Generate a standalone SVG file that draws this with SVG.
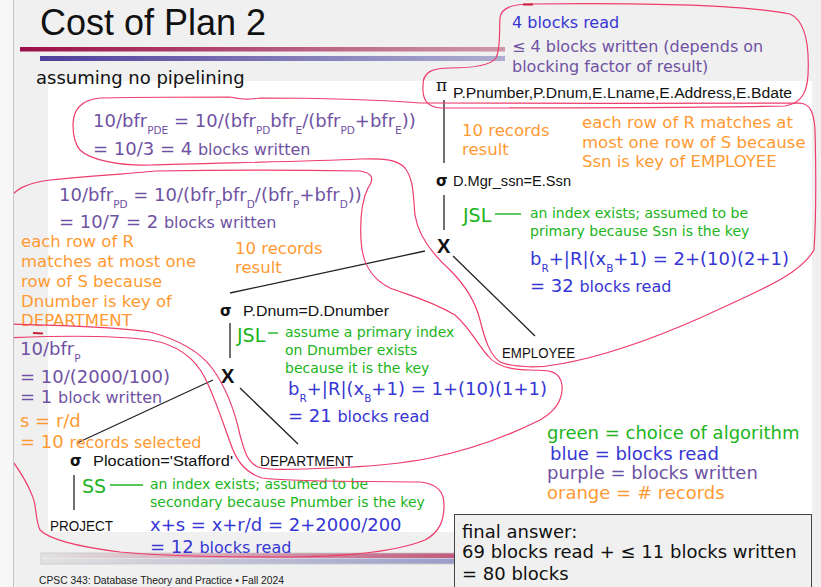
<svg xmlns="http://www.w3.org/2000/svg" width="821" height="587" viewBox="0 0 821 587">
  <defs>
    <style>
      .t { font-family: "DejaVu Sans", "Noto Sans", sans-serif; }
      .f18 { font-size: 18px; }
      .f16 { font-size: 16px; }
      .f165 { font-size: 16.5px; }
      .f14 { font-size: 14px; }
      .sub { font-size: 10.5px; }
      .blue { fill: #3636d4; }
      .purple { fill: #6f52a3; }
      .orange { fill: #ff9a33; }
      .green { fill: #20b420; }
      .node { font-family: "Liberation Sans", Arial, sans-serif; font-size: 14px; fill: #111; }
      .sym { font-family: "DejaVu Sans", sans-serif; font-weight: bold; font-size: 15px; fill: #111; }
      .cross { font-family: "Liberation Sans", Arial, sans-serif; font-weight: bold; font-size: 20px; fill: #111; }
      .edge { stroke: #222; stroke-width: 1.3; fill: none; }
      .loop { stroke: #ee3c6c; stroke-width: 1.2; fill: none; stroke-linejoin: round; }
      .dash { stroke: #20b420; stroke-width: 1.4; }
    </style>
    <linearGradient id="barRed" x1="0" x2="1" y1="0" y2="0">
      <stop offset="0" stop-color="#9c0f4a"/>
      <stop offset="1" stop-color="#cf98aa"/>
    </linearGradient>
    <linearGradient id="barBlue" x1="0" x2="1" y1="0" y2="0">
      <stop offset="0" stop-color="#4e3f9c"/>
      <stop offset="1" stop-color="#aeaed0"/>
    </linearGradient>
    <linearGradient id="footRed" x1="0" x2="1" y1="0" y2="0">
      <stop offset="0" stop-color="#e2e2e2"/>
      <stop offset="1" stop-color="#c2587c"/>
    </linearGradient>
    <linearGradient id="footBlue" x1="0" x2="1" y1="0" y2="0">
      <stop offset="0" stop-color="#e2e2e2"/>
      <stop offset="1" stop-color="#9a9ac8"/>
    </linearGradient>
    <clipPath id="slideArea">
      <rect x="14" y="0" width="807" height="587"/>
    </clipPath>
  </defs>

  <!-- slide background -->
  <rect x="0" y="0" width="821" height="587" fill="#f0f0f0"/>
  <rect x="0" y="0" width="13" height="587" fill="#f7f7f7"/>
  <line x1="13.5" y1="0" x2="13.5" y2="587" stroke="#c4c4c4" stroke-width="1"/>

  <!-- title and header bars -->
  <text x="40" y="35" font-family="Liberation Sans, Arial, sans-serif" font-size="36" fill="#111">Cost of Plan 2</text>
  <rect x="20" y="47" width="485" height="4.5" fill="url(#barRed)"/>
  <rect x="40" y="56" width="465" height="5" fill="url(#barBlue)"/>

  <!-- white drawing panel -->
  <rect x="48" y="81" width="764" height="451" fill="#ffffff"/>

  <text class="t f18" x="36" y="84" fill="#111">assuming no pipelining</text>

  <!-- footer bars and caption -->
  <rect x="41" y="553" width="420" height="5" fill="url(#footRed)"/>
  <rect x="41" y="558.5" width="420" height="5.5" fill="url(#footBlue)"/>
  <rect x="41" y="553" width="420" height="11" fill="none" stroke="#c8c8c8" stroke-width="0.8"/>
  <text x="39" y="584" font-family="Liberation Sans, Arial, sans-serif" font-size="11" fill="#222" textLength="245" lengthAdjust="spacingAndGlyphs">CPSC 343: Database Theory and Practice  •  Fall 2024</text>

  <!-- query tree edges -->
  <g id="connectors">
    <line class="edge" x1="444" y1="100" x2="444" y2="163"/>
    <line class="edge" x1="444" y1="195" x2="444" y2="230"/>
    <line class="edge" x1="425" y1="251" x2="230" y2="293"/>
    <line class="edge" x1="453" y1="256" x2="535" y2="336"/>
    <line class="edge" x1="230" y1="323" x2="230" y2="358"/>
    <line class="edge" x1="213" y1="380" x2="77" y2="443"/>
    <line class="edge" x1="240" y1="388" x2="298" y2="444"/>
    <line class="edge" x1="74" y1="475" x2="74" y2="510"/>
  </g>

  <!-- query tree nodes -->
  <g id="node-project-list">
    <text x="436" y="91" font-family="DejaVu Serif, serif" font-size="17" fill="#111">π</text>
    <text class="node" x="453" y="98" textLength="339" lengthAdjust="spacingAndGlyphs">P.Pnumber,P.Dnum,E.Lname,E.Address,E.Bdate</text>
  </g>
  <g id="node-select-mgr">
    <text class="sym" x="436" y="186">σ</text>
    <text class="node" x="453" y="186" textLength="118" lengthAdjust="spacingAndGlyphs">D.Mgr_ssn=E.Ssn</text>
  </g>
  <g id="node-product-top">
    <text class="cross" x="437" y="253">X</text>
  </g>
  <g id="node-employee">
    <text class="node" x="502" y="358" textLength="73" lengthAdjust="spacingAndGlyphs">EMPLOYEE</text>
  </g>
  <g id="node-select-dnum">
    <text class="sym" x="220" y="316">σ</text>
    <text class="node" x="243" y="316" textLength="146" lengthAdjust="spacingAndGlyphs">P.Dnum=D.Dnumber</text>
  </g>
  <g id="node-product-bottom">
    <text class="cross" x="221" y="383">X</text>
  </g>
  <g id="node-department">
    <text class="node" x="260" y="466" textLength="93" lengthAdjust="spacingAndGlyphs">DEPARTMENT</text>
  </g>
  <g id="node-select-plocation">
    <text class="sym" x="70" y="466">σ</text>
    <text class="node" x="93" y="466" textLength="140" lengthAdjust="spacingAndGlyphs">Plocation='Stafford'</text>
  </g>
  <g id="node-project-table">
    <text class="node" x="50" y="531" textLength="63" lengthAdjust="spacingAndGlyphs">PROJECT</text>
  </g>

  <!-- cost notes -->
  <g id="notes">
    <!-- projection -->
    <text class="t f16 blue" x="512" y="28">4 blocks read</text>
    <text class="t f16 purple" x="512" y="52">≤ 4 blocks written (depends on</text>
    <text class="t f16 purple" x="512" y="72">blocking factor of result)</text>

    <!-- upper join -->
    <text class="t f18 purple" x="93" y="127">10/bfr<tspan class="sub" dy="7">PDE</tspan><tspan dy="-7"> = 10/(bfr</tspan><tspan class="sub" dy="7">PD</tspan><tspan dy="-7">bfr</tspan><tspan class="sub" dy="7">E</tspan><tspan dy="-7">/(bfr</tspan><tspan class="sub" dy="7">PD</tspan><tspan dy="-7">+bfr</tspan><tspan class="sub" dy="7">E</tspan><tspan dy="-7">))</tspan></text>
    <text class="t f18 purple" x="93" y="155">= 10/3 = 4 <tspan class="f16">blocks written</tspan></text>
    <text class="t f165 orange" x="462" y="136">10 records</text>
    <text class="t f165 orange" x="462" y="155">result</text>
    <text class="t f165 orange" x="582" y="128">each row of R matches at</text>
    <text class="t f165 orange" x="582" y="148">most one row of S because</text>
    <text class="t f165 orange" x="582" y="167">Ssn is key of EMPLOYEE</text>
    <text class="t green" x="463" y="222" font-size="19">JSL</text>
    <line class="dash" x1="495" y1="214" x2="521" y2="214"/>
    <text class="t f14 green" x="530" y="218">an index exists; assumed to be</text>
    <text class="t f14 green" x="530" y="236">primary because Ssn is the key</text>
    <text class="t f18 blue" x="530" y="265">b<tspan class="sub" dy="7">R</tspan><tspan dy="-7">+|R|(x</tspan><tspan class="sub" dy="7">B</tspan><tspan dy="-7">+1) = 2+(10)(2+1)</tspan></text>
    <text class="t f18 blue" x="530" y="292">= 32 <tspan class="f16">blocks read</tspan></text>

    <!-- lower join -->
    <text class="t f18 purple" x="59" y="201">10/bfr<tspan class="sub" dy="7">PD</tspan><tspan dy="-7"> = 10/(bfr</tspan><tspan class="sub" dy="7">P</tspan><tspan dy="-7">bfr</tspan><tspan class="sub" dy="7">D</tspan><tspan dy="-7">/(bfr</tspan><tspan class="sub" dy="7">P</tspan><tspan dy="-7">+bfr</tspan><tspan class="sub" dy="7">D</tspan><tspan dy="-7">))</tspan></text>
    <text class="t f18 purple" x="59" y="228">= 10/7 = 2 <tspan class="f16">blocks written</tspan></text>
    <text class="t f165 orange" x="21" y="247">each row of R</text>
    <text class="t f165 orange" x="21" y="267">matches at most one</text>
    <text class="t f165 orange" x="21" y="287">row of S because</text>
    <text class="t f165 orange" x="21" y="307">Dnumber is key of</text>
    <text class="t f165 orange" x="21" y="326">DEPARTMENT</text>
    <text class="t f165 orange" x="235" y="254">10 records</text>
    <text class="t f165 orange" x="235" y="273">result</text>
    <text class="t green" x="237" y="342" font-size="19">JSL</text>
    <line class="dash" x1="268" y1="333" x2="278" y2="333"/>
    <text class="t f14 green" x="285" y="337">assume a primary index</text>
    <text class="t f14 green" x="285" y="355">on Dnumber exists</text>
    <text class="t f14 green" x="285" y="373">because it is the key</text>
    <text class="t f18 blue" x="288" y="395">b<tspan class="sub" dy="7">R</tspan><tspan dy="-7">+|R|(x</tspan><tspan class="sub" dy="7">B</tspan><tspan dy="-7">+1) = 1+(10)(1+1)</tspan></text>
    <text class="t f18 blue" x="288" y="422">= 21 <tspan class="f16">blocks read</tspan></text>

    <!-- selection on PROJECT -->
    <text class="t f18 purple" x="20" y="355">10/bfr<tspan class="sub" dy="7">P</tspan></text>
    <text class="t f18 purple" x="20" y="383">= 10/(2000/100)</text>
    <text class="t f18 purple" x="20" y="403">= 1 <tspan class="f16">block written</tspan></text>
    <text class="t f18 orange" x="20" y="427">s = r/d</text>
    <text class="t f18 orange" x="20" y="448">= 10 <tspan class="f16">records selected</tspan></text>
    <text class="t green" x="82" y="493" font-size="19">SS</text>
    <line class="dash" x1="110" y1="485" x2="143" y2="485"/>
    <text class="t f14 green" x="150" y="489">an index exists; assumed to be</text>
    <text class="t f14 green" x="150" y="507">secondary because Pnumber is the key</text>
    <text class="t f18 blue" x="150" y="531">x+s = x+r/d = 2+2000/200</text>
    <text class="t f18 blue" x="150" y="553">= 12 <tspan class="f16">blocks read</tspan></text>
  </g>

  <!-- colour key -->
  <g id="legend">
    <text class="t f18 green" x="547" y="439">green = choice of algorithm</text>
    <text class="t f18 blue" x="550" y="460">blue = blocks read</text>
    <text class="t f18 purple" x="547" y="479">purple = blocks written</text>
    <text class="t f18 orange" x="547" y="499">orange = # records</text>
  </g>

  <!-- hand-drawn grouping loops -->
  <g id="loops" clip-path="url(#slideArea)">
    <path class="loop" d="M 530,4 C 620,3 740,4 790,14 C 808,22 809,55 808,75 C 807,92 802,103 785,106 C 700,108 520,108 440,108 C 426,107 422,98 423,85 C 423,72 432,68 450,68 C 470,68 490,66 496,58 C 501,48 499,30 500,18 C 501,8 512,4 530,4 Z"/>
    <path class="loop" d="M 73,125 C 73,110 80,100 100,98 C 160,97 200,97 230,97 C 240,99 245,100 260,98 C 320,98 380,100 420,103 C 520,104 700,103 800,103 C 810,104 814,112 815,130 C 816,170 816,220 814,250 C 800,275 760,290 700,318 C 650,340 600,357 560,364 C 540,368 515,368 500,362 C 490,355 485,340 480,320 C 475,300 465,285 450,270 C 430,252 418,235 415,215 C 413,195 414,180 405,168 C 398,160 385,158 360,159 C 300,162 200,163 150,165 C 120,166 90,160 80,150 C 74,143 73,135 73,125 Z"/>
    <path class="loop" d="M 8,200 C 15,190 25,183 50,180 C 100,175 140,173 155,171 C 220,170 300,170 360,171 C 372,173 375,178 368,188 C 362,200 360,220 361,240 C 362,262 370,278 390,288 C 405,294 430,300 455,315 C 470,328 478,345 488,356 C 496,366 510,370 530,370 C 548,370 560,370 562,385 C 563,398 558,410 540,420 C 510,435 470,450 430,458 C 400,464 360,467 330,468 C 300,469 270,471 258,467 C 247,462 244,450 240,435 C 235,412 228,390 212,368 C 200,352 180,340 150,332 C 110,326 60,326 8,324"/>
    <path class="loop" d="M 8,338 C 50,336 110,335 150,340 C 180,345 196,360 205,378 C 215,398 222,420 230,442 C 236,460 244,472 262,478 C 290,482 360,481 420,482 C 438,484 444,492 444,505 C 444,520 440,532 425,540 C 395,552 340,557 280,557 C 220,557 160,556 120,552 C 80,547 50,540 40,530 C 35,520 37,505 32,495 C 26,480 18,468 8,455"/>
    <line x1="523" y1="4.5" x2="533" y2="4.5" stroke="#c8203c" stroke-width="2"/>
    <line x1="33" y1="333" x2="43" y2="333.5" stroke="#c8203c" stroke-width="1.8"/>
  </g>

  <!-- final answer box -->
  <g id="final-answer">
    <rect x="454.5" y="514.5" width="357" height="80" fill="#f0f0f0" stroke="#444" stroke-width="1"/>
    <text class="t f18" x="462" y="538" fill="#111">final answer:</text>
    <text class="t f18" x="462" y="558" fill="#111">69 blocks read + ≤ 11 blocks written</text>
    <text class="t f18" x="462" y="580" fill="#111">= 80 blocks</text>
  </g>
</svg>
